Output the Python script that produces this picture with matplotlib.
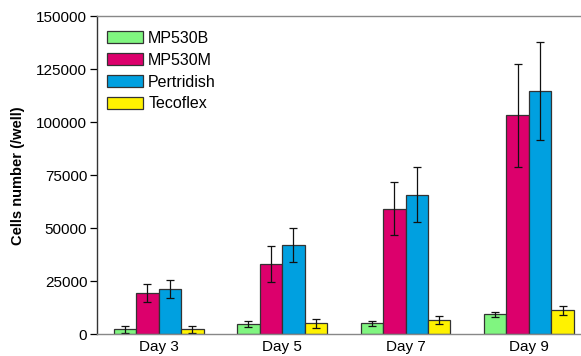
import matplotlib
matplotlib.use("Agg")
import matplotlib.pyplot as plt
import numpy as np

days = ["Day 3", "Day 5", "Day 7", "Day 9"]
series = ["MP530B", "MP530M", "Pertridish", "Tecoflex"]
mp530b = [2200, 4600, 5000, 9300]
mp530b_err = [1500, 1400, 1300, 1300]
mp530m = [19200, 33300, 59100, 103300]
mp530m_err = [4200, 8500, 12500, 24300]
pertri = [21400, 42100, 65900, 114800]
pertri_err = [4300, 8200, 13000, 23300]
tecof = [2200, 5000, 6600, 11300]
tecof_err = [1800, 2200, 1700, 2100]
yticks = [0, 25000, 50000, 75000, 100000, 125000, 150000]

colors = ["#80F580", "#DC006C", "#00A0E0", "#FFF200"]
values = [mp530b, mp530m, pertri, tecof]
errors = [mp530b_err, mp530m_err, pertri_err, tecof_err]

plt.rcParams['font.family'] = ['Liberation Sans', 'DejaVu Sans']
fig = plt.figure(figsize=(5.81, 3.56), dpi=100)
ax = fig.add_axes([97/581, 1-334/356, 4*123.4/581, (334-16.5)/356])

x = np.arange(len(days))
w = 0.182
for i, (vals, errs, c, name) in enumerate(zip(values, errors, colors, series)):
    pos = x + (i - 1.5) * w
    ax.bar(pos, vals, width=w, color=c, edgecolor="#333333", linewidth=0.9, label=name)
    ax.errorbar(pos, vals, yerr=errs, fmt="none", ecolor="#111111", elinewidth=0.9,
                capsize=3, capthick=0.9)

ax.set_xlim(-0.5, 3.5)
ax.set_ylim(0, 150000)
ax.set_yticks(yticks)
ax.set_yticklabels([str(v) for v in yticks], fontsize=11)
ax.set_xticks(x)
ax.set_xticklabels(days, fontsize=11)
ax.tick_params(axis='x', length=0, pad=4)
ax.tick_params(axis='y', length=5, width=0.9, direction='out', pad=2)
ax.spines['right'].set_visible(False)
ax.spines['top'].set_color('#888888')
ax.spines['bottom'].set_color('#888888')
ax.spines['left'].set_color('#333333')
for s in ax.spines.values():
    s.set_linewidth(1.0)

ax.set_ylabel("Cells number (/well)", fontsize=10.5, fontweight='bold', labelpad=8)

leg = ax.legend(loc='upper left', frameon=False, fontsize=11.5, handlelength=2.3,
                handleheight=0.75, handletextpad=0.3, labelspacing=0.43,
                bbox_to_anchor=(-0.003, 0.99), borderaxespad=0.3)

fig.savefig("out.png", dpi=100)
